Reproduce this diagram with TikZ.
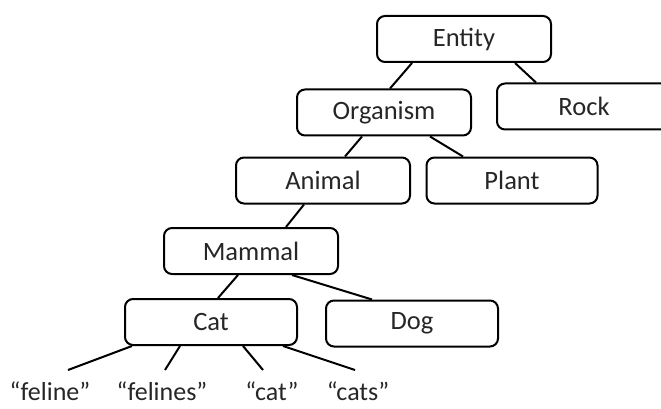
\documentclass[tikz,border=0pt]{standalone}
\usepackage{fontspec}
\setmainfont{Carlito}
\begin{document}
\begin{tikzpicture}[x=1pt,y=-1pt,
  concept/.style={draw=black, line width=2pt, rounded corners=8pt, fill=white,
    minimum width=174pt, minimum height=46pt, inner sep=0pt,
    font=\fontsize{26.5}{31}\selectfont, text=black!85},
  word/.style={anchor=base, inner sep=0pt, font=\fontsize{26}{31}\selectfont, text=black!85},
  link/.style={line width=2pt, black}]
\useasboundingbox (0,0) rectangle (661,409);
\clip (0,0) rectangle (661,409);

% concept hierarchy
\node[concept] (entity)   at (464,39)    {Entity};
\node[concept] (organism) at (384,112.5) {Organism};
\node[concept] (rock)     at (584,106.5) {Rock};
\node[concept] (animal)   at (323,180.5) {Animal};
\node[concept, minimum width=171pt] (plant) at (512,180.5) {Plant};
\node[concept] (mammal)   at (251,251)   {Mammal};
\node[concept, minimum width=172pt] (cat) at (211,322) {Cat};
\node[concept, minimum width=172pt] (dog) at (412,323.5) {Dog};

% surface words for the Cat concept
\node[word] (w1) at (50,400)  {“feline”};
\node[word] (w2) at (162,400) {“felines”};
\node[word] (w3) at (272,400) {“cat”};
\node[word] (w4) at (358,400) {“cats”};
\coordinate (e1) at (68,370);
\coordinate (e2) at (165,370);
\coordinate (e3) at (263,370);
\coordinate (e4) at (355,370);

% is-a links
\draw[link] ([xshift=-52pt]entity.south)   -- ([xshift=6pt]organism.north);
\draw[link] ([xshift=51pt]entity.south)    -- ([xshift=-48pt]rock.north);
\draw[link] ([xshift=-22pt]organism.south) -- ([xshift=22pt]animal.north);
\draw[link] ([xshift=46pt]organism.south)  -- ([xshift=-49pt]plant.north);
\draw[link] ([xshift=-19pt]animal.south)   -- ([xshift=35pt]mammal.north);
\draw[link] ([xshift=-13pt]mammal.south)   -- ([xshift=7pt]cat.north);
\draw[link] ([xshift=41pt]mammal.south)    -- ([xshift=-40pt]dog.north);

% word links
\draw[link] ([xshift=-79pt]cat.south) -- (e1);
\draw[link] ([xshift=-31pt]cat.south) -- (e2);
\draw[link] ([xshift=32pt]cat.south)  -- (e3);
\draw[link] ([xshift=72pt]cat.south)  -- (e4);
\end{tikzpicture}
\end{document}
